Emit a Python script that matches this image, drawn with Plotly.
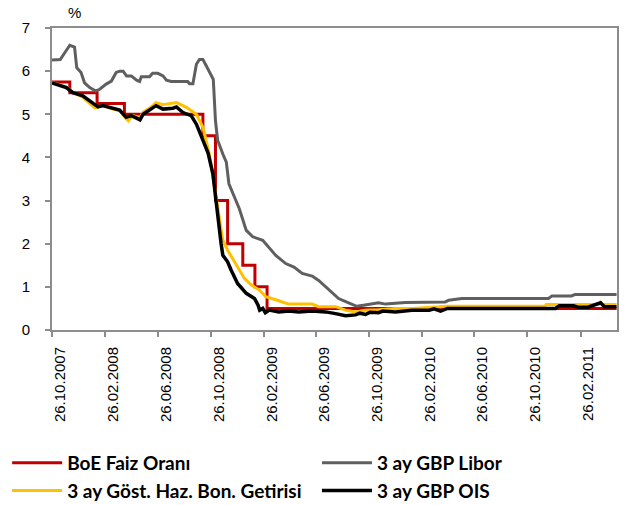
import plotly.graph_objects as go

# Bank of England policy rate (step changes)
boe_dates = ["2007-10-26", "2007-12-06", "2008-02-07", "2008-04-10", "2008-10-08",
             "2008-11-06", "2008-12-04", "2009-01-08", "2009-02-05", "2009-03-05",
             "2011-05-20"]
boe_rate = [5.75, 5.5, 5.25, 5.0, 4.5, 3.0, 2.0, 1.5, 1.0, 0.5, 0.5]

# 3-month GBP Libor
libor_dates = ["2007-10-26", "2007-11-14", "2007-12-06", "2007-12-17", "2007-12-22",
               "2008-01-01", "2008-01-09", "2008-01-21", "2008-02-04", "2008-02-13",
               "2008-02-28", "2008-03-11", "2008-03-22", "2008-03-30", "2008-04-07",
               "2008-04-15", "2008-04-26", "2008-05-08", "2008-05-15", "2008-05-19",
               "2008-06-07", "2008-06-14", "2008-06-26", "2008-07-08", "2008-07-16",
               "2008-07-27", "2008-09-03", "2008-09-07", "2008-09-15", "2008-09-23",
               "2008-09-30", "2008-10-08", "2008-10-16", "2008-10-27", "2008-11-01",
               "2008-11-06", "2008-11-11", "2008-11-23", "2008-12-01", "2008-12-07",
               "2008-12-16", "2008-12-31", "2009-01-16", "2009-01-31", "2009-02-23",
               "2009-03-02", "2009-03-25", "2009-04-17", "2009-05-06", "2009-05-25",
               "2009-06-17", "2009-07-02", "2009-07-18", "2009-08-02", "2009-08-17",
               "2009-09-09", "2009-09-28", "2009-10-17", "2009-11-17", "2009-12-03",
               "2010-01-18", "2010-04-20", "2010-04-28", "2010-05-28", "2010-12-14",
               "2010-12-22", "2011-02-05", "2011-02-13", "2011-05-20"]
libor = [6.26, 6.27, 6.60, 6.56, 6.08,
         5.97, 5.73, 5.62, 5.54, 5.58,
         5.70, 5.77, 5.97, 6.00, 6.00,
         5.89, 5.89, 5.79, 5.76, 5.87,
         5.87, 5.95, 5.95, 5.89, 5.79,
         5.76, 5.76, 5.71, 5.71, 6.16,
         6.27, 6.27, 6.12, 5.93, 5.81,
         4.85, 4.40, 4.08, 3.89, 3.39,
         3.16, 2.81, 2.31, 2.16, 2.08,
         2.00, 1.73, 1.54, 1.46, 1.31,
         1.25, 1.15, 1.00, 0.85, 0.73,
         0.63, 0.55, 0.58, 0.63, 0.60,
         0.64, 0.65, 0.69, 0.73, 0.73,
         0.79, 0.79, 0.82, 0.82]

# 3-month Treasury bill yield
tbill_dates = ["2007-10-26", "2007-11-28", "2007-12-13", "2008-01-05", "2008-01-21",
               "2008-02-01", "2008-02-09", "2008-02-20", "2008-03-14", "2008-03-30",
               "2008-04-14", "2008-04-19", "2008-04-29", "2008-05-16", "2008-05-23",
               "2008-06-08", "2008-06-22", "2008-07-08", "2008-08-08", "2008-08-31",
               "2008-09-23", "2008-10-08", "2008-10-23", "2008-10-31", "2008-11-14",
               "2008-11-23", "2008-12-04", "2008-12-16", "2008-12-27", "2009-01-12",
               "2009-01-28", "2009-02-16", "2009-03-02", "2009-03-17", "2009-03-29",
               "2009-04-09", "2009-04-24", "2009-06-17", "2009-07-02", "2009-08-10",
               "2009-09-02", "2009-09-25", "2009-10-18", "2009-11-17", "2009-12-26",
               "2010-02-02", "2010-03-14", "2010-04-26", "2010-12-05", "2010-12-09",
               "2011-04-08", "2011-04-13", "2011-04-18", "2011-05-20"]
tbill = [5.74, 5.63, 5.51, 5.40, 5.25,
         5.15, 5.17, 5.20, 5.12, 5.08,
         4.90, 4.85, 4.97, 4.92, 5.05,
         5.15, 5.27, 5.22, 5.27, 5.16,
         5.00, 4.70, 4.08, 3.54, 2.69,
         2.08, 1.85, 1.65, 1.46, 1.19,
         1.04, 0.92, 0.77, 0.73, 0.69,
         0.65, 0.60, 0.60, 0.54, 0.54,
         0.46, 0.42, 0.46, 0.47, 0.50,
         0.50, 0.52, 0.55, 0.55, 0.59,
         0.59, 0.64, 0.59, 0.59]

# 3-month GBP overnight index swap
ois_dates = ["2007-10-26", "2007-11-28", "2007-12-13", "2008-01-05", "2008-01-21",
             "2008-02-09", "2008-02-20", "2008-03-14", "2008-03-30", "2008-04-14",
             "2008-04-26", "2008-05-08", "2008-05-16", "2008-05-23", "2008-06-08",
             "2008-06-22", "2008-07-08", "2008-07-31", "2008-08-08", "2008-08-23",
             "2008-09-11", "2008-09-23", "2008-10-04", "2008-10-12", "2008-10-20",
             "2008-10-31", "2008-11-06", "2008-11-12", "2008-11-19", "2008-11-23",
             "2008-12-04", "2008-12-12", "2008-12-27", "2009-01-16", "2009-02-04",
             "2009-02-12", "2009-02-16", "2009-02-23", "2009-03-01", "2009-03-10",
             "2009-04-01", "2009-04-24", "2009-05-17", "2009-06-17", "2009-07-18",
             "2009-08-10", "2009-09-02", "2009-09-25", "2009-10-05", "2009-10-18",
             "2009-10-28", "2009-11-17", "2009-11-27", "2009-12-26", "2010-02-02",
             "2010-03-14", "2010-03-25", "2010-04-09", "2010-04-25", "2010-12-30",
             "2011-01-08", "2011-02-10", "2011-02-20", "2011-03-15", "2011-04-13",
             "2011-04-22", "2011-05-20"]
ois = [5.73, 5.62, 5.50, 5.43, 5.31,
       5.17, 5.20, 5.14, 5.10, 4.93,
       4.97, 4.91, 4.87, 5.00, 5.10,
       5.20, 5.12, 5.14, 5.17, 5.04,
       4.97, 4.77, 4.50, 4.30, 4.10,
       3.62, 3.08, 2.46, 2.00, 1.73,
       1.58, 1.39, 1.08, 0.85, 0.73,
       0.58, 0.46, 0.50, 0.40, 0.46,
       0.42, 0.44, 0.42, 0.44, 0.42,
       0.38, 0.33, 0.35, 0.39, 0.36,
       0.41, 0.40, 0.44, 0.42, 0.46,
       0.46, 0.49, 0.44, 0.50, 0.50,
       0.56, 0.56, 0.53, 0.53, 0.63,
       0.54, 0.54]

tick_dates = ["2007-10-26", "2008-02-26", "2008-06-26", "2008-10-26", "2009-02-26",
              "2009-06-26", "2009-10-26", "2010-02-26", "2010-06-26", "2010-10-26",
              "2011-02-26"]
tick_labels = ["26.10.2007", "26.02.2008", "26.06.2008", "26.10.2008", "26.02.2009",
               "26.06.2009", "26.10.2009", "26.02.2010", "26.06.2010", "26.10.2010",
               "26.02.2011"]
y_ticks = [0, 1, 2, 3, 4, 5, 6, 7]

fig = go.Figure()
# left legend column: policy rate and T-bill; right column: Libor and OIS
fig.add_trace(go.Scatter(x=boe_dates, y=boe_rate, mode="lines", name="BoE Faiz Oranı",
                         legend="legend",
                         line=dict(color="#C00000", width=3, shape="hv")))
fig.add_trace(go.Scatter(x=libor_dates, y=libor, mode="lines", name="3 ay GBP Libor",
                         legend="legend2",
                         line=dict(color="#5F5F5F", width=3)))
fig.add_trace(go.Scatter(x=tbill_dates, y=tbill, mode="lines",
                         name="3 ay Göst. Haz. Bon. Getirisi", legend="legend",
                         line=dict(color="#FFC000", width=3)))
fig.add_trace(go.Scatter(x=ois_dates, y=ois, mode="lines", name="3 ay GBP OIS",
                         legend="legend2",
                         line=dict(color="#000000", width=3.5)))

axis_grey = "#8C8C8C"
legend_font = dict(family="Lato, sans-serif", size=19, color="black", weight="bold")
legend_common = dict(orientation="v", xref="paper", yref="container",
                     xanchor="left", yanchor="top", itemwidth=50,
                     font=legend_font, bgcolor="rgba(0,0,0,0)",
                     tracegroupgap=0, traceorder="normal")

fig.update_layout(
    width=629, height=505, autosize=False,
    margin=dict(l=52, r=10, t=28, b=175),
    paper_bgcolor="white", plot_bgcolor="white",
    font=dict(family="Liberation Sans, Arial, sans-serif", size=15, color="black"),
    xaxis=dict(
        type="date", range=["2007-10-26", "2011-05-21"],
        tickmode="array", tickvals=tick_dates, ticktext=tick_labels,
        tickangle=-90, ticks="outside", ticklen=5, tickwidth=1.5, tickcolor=axis_grey,
        showline=True, linecolor=axis_grey, linewidth=2, mirror=True,
        showgrid=False, zeroline=False, ticklabelstandoff=4, ticklabelshift=8,
        tickfont=dict(size=15),
    ),
    yaxis=dict(
        range=[0, 7], tickmode="array", tickvals=y_ticks,
        ticks="outside", ticklen=5, tickwidth=1.5, tickcolor=axis_grey,
        showline=True, linecolor=axis_grey, linewidth=2, mirror=True,
        showgrid=False, zeroline=False, ticklabelstandoff=12,
        tickfont=dict(size=15),
    ),
    legend=dict(x=-0.0794, y=0.121, **legend_common),
    legend2=dict(x=0.469, y=0.121, **legend_common),
    annotations=[dict(text="%", xref="paper", yref="paper", x=0.04, y=1.05,
                      xanchor="center", yanchor="middle", showarrow=False,
                      font=dict(size=15))],
)

fig.write_html("out.html")
